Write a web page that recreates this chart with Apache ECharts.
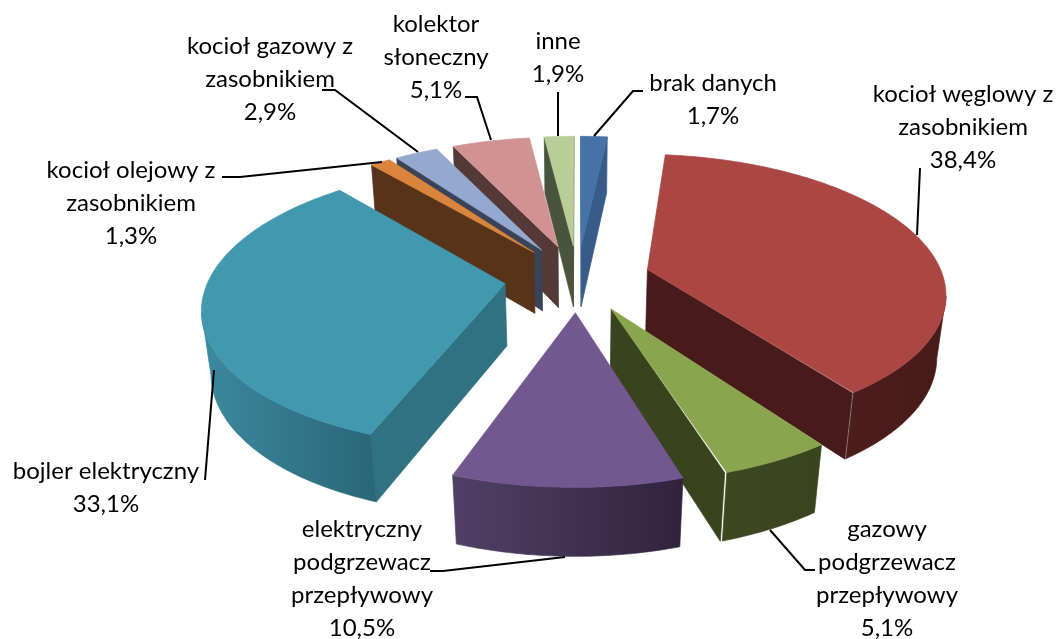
<!DOCTYPE html>
<html><head><meta charset="utf-8">
<style>html,body{margin:0;padding:0;background:#fff}#c{width:1057px;height:639px}</style>
<script src="https://cdn.jsdelivr.net/npm/echarts@6/dist/echarts.min.js"></script>
</head><body><div id="c"></div>
<script>
// --- data
var categories = ['brak danych','kocioł węglowy z\nzasobnikiem','gazowy\npodgrzewacz\nprzepływowy','elektryczny\npodgrzewacz\nprzepływowy','bojler elektryczny','kocioł olejowy z\nzasobnikiem','kocioł gazowy z\nzasobnikiem','kolektor\nsłoneczny','inne'];
var values = [1.7,38.4,5.1,10.5,33.1,1.3,2.9,5.1,1.9];
// --- styles
var topColors = ['#4572A7','#AA4643','#89A54E','#71588F','#4198AF','#DB843D','#93A9CF','#D19392','#B9CD96'];
var wallColors = ['#375C8A','#471B19','#39431E','#3A2C4A','#317282','#57331A','#3A4358','#553838','#4A533B'];
var rimStops = [['#2f4f78','#2f4f78'],['#4d1d1b','#471B19'],['#3d4720','#39431E'],['#514066','#31233E'],['#3C899D','#2B6778'],['#57331A','#57331A'],['#3A4358','#3A4358'],['#553838','#553838'],['#4A533B','#4A533B']];
// --- layout
var labelPos = [[713,83],[963,94],[887,529],[362,529],[106,471],[131,170],[270,46],[436,24],[558,41]];
var leaders = [
 [[594,136],[633,91],[643,91]],
 [[917,235],[920,168]],
 [[770,530],[805,570],[815,570]],
 [[565,557],[443,571],[430,571]],
 [[214,370],[205,480]],
 [[382,162],[240,177],[222,177]],
 [[418,152],[335,90],[322,90]],
 [[491,140],[477,97],[465,97]],
 [[558,136],[558,92]]
];
var FONT = 'Lato', FS = 24, LH = 33;
var CX=577.5, CY=278, CYB=340, K=.458, KB=.488, D=1915, DZ=48, R=296, E=73;

var total = values.reduce(function(a,b){return a+b;},0);
var toDeg = function(v){return echarts.number.linearMap(v,[0,total],[0,360]);};
var cum=0, spans = values.map(function(v){var s=[toDeg(cum),toDeg(cum+v)];cum+=v;return s;});
var rad = function(d){return d*Math.PI/180;};
function off(i){var m=rad((spans[i][0]+spans[i][1])/2);return [E*Math.sin(m),E*Math.cos(m)];}
function proj(X,Y,bottom){
  if(!bottom){var s=1/(1+Y/D);return [CX+X*s,CY-K*Y*s];}
  var sb=1/(1+(Y+DZ)/D);return [CX+X*sb,CYB-KB*Y*sb];
}
function rimPt(i,a){var o=off(i);return [o[0]+R*Math.sin(rad(a)),o[1]+R*Math.cos(rad(a))];}
function solid(c){return {fill:c,stroke:c,lineWidth:.7,lineJoin:'round'};}
function wall(i,a,sign,children){
  var o=off(i),p=rimPt(i,a);
  var n=[-sign*Math.cos(rad(a)),sign*Math.sin(rad(a))];
  var mx=(o[0]+p[0])/2,my=(o[1]+p[1])/2;
  if((-mx)*n[0]+(-D-my)*n[1]<=0) return;
  children.push({type:'polygon',shape:{points:[proj(o[0],o[1]),proj(p[0],p[1]),proj(p[0],p[1],1),proj(o[0],o[1],1)]},style:solid(wallColors[i])});
}
function renderSlice(params,api){
  var i=api.value(0), a0=spans[i][0], a1=spans[i][1];
  var o=off(i), ch=[];
  wall(i,a0,1,ch); wall(i,a1,-1,ch);
  var vis=[];
  for(var a=a0;a<=a1+1e-6;a+=Math.min(1,(a1-a0)/8)){
    var p=rimPt(i,a),n=[Math.sin(rad(a)),Math.cos(rad(a))];
    if(-p[0]*n[0]+(-D-p[1])*n[1]>0) vis.push(p);
  }
  if(vis.length>1){
    var tp=vis.map(function(p){return proj(p[0],p[1]);});
    var bp=vis.map(function(p){return proj(p[0],p[1],1);}).reverse();
    var xs=tp.map(function(p){return p[0];});
    var x0=Math.min.apply(null,xs),x1=Math.max.apply(null,xs);
    var grad=new echarts.graphic.LinearGradient(x0,0,x1,0,[{offset:0,color:rimStops[i][0]},{offset:1,color:rimStops[i][1]}],true);
    ch.push({type:'polygon',shape:{points:tp.concat(bp)},style:solid(grad)});
  }
  var top=[proj(o[0],o[1])];
  for(var b=a0;b<=a1+1e-6;b+=Math.min(1,(a1-a0)/8)){var q=rimPt(i,b);top.push(proj(q[0],q[1]));}
  ch.push({type:'polygon',shape:{points:top},style:solid(topColors[i])});
  return {type:'group',children:ch};
}
var order = values.map(function(v,i){return i;}).sort(function(a,b){return off(b)[1]-off(a)[1];});
var graphics=[];
leaders.forEach(function(l){graphics.push({type:'polyline',z:10,shape:{points:l},style:{stroke:'#000',lineWidth:2,fill:null}});});
categories.forEach(function(c,i){
  graphics.push({type:'text',z:11,x:labelPos[i][0],y:labelPos[i][1]-LH/2,style:{
    text:c+'\n'+values[i].toFixed(1).replace('.',',')+'%',align:'center',verticalAlign:'top',
    fontFamily:FONT,fontSize:FS,lineHeight:LH,fill:'#000'}});
});
var chart=echarts.init(document.getElementById('c'),null,{renderer:'canvas'});
chart.setOption({animation:false,backgroundColor:'#fff',
  series:[{type:'custom',coordinateSystem:'none',silent:true,renderItem:renderSlice,
    data:order.map(function(i){return [i,values[i]];})}],
  graphic:{elements:graphics}});
</script></body></html>
